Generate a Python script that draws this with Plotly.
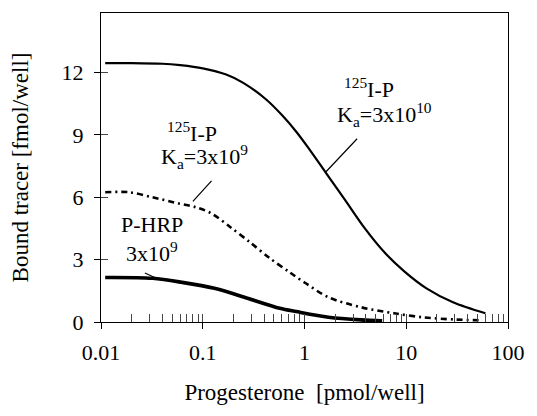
import plotly.graph_objects as go
import math

# Data
x_hi = [0.011, 0.02, 0.04, 0.06, 0.1, 0.17, 0.25, 0.42, 0.6, 0.83, 1.1, 1.61, 2.51, 3.92, 6.1, 9.5, 15.8, 28.8, 60]
y_hi = [12.45, 12.45, 12.42, 12.35, 12.2, 11.9, 11.5, 10.7, 9.95, 9.15, 8.35, 7.2, 5.86, 4.5, 3.35, 2.45, 1.62, 0.95, 0.42]

x_lo = [0.011, 0.019, 0.032, 0.058, 0.084, 0.12, 0.187, 0.29, 0.455, 0.71, 1.0, 1.72, 3.6, 7.6, 15, 30, 55]
y_lo = [6.24, 6.24, 6.0, 5.7, 5.53, 5.24, 4.56, 3.84, 3.07, 2.4, 1.9, 1.19, 0.71, 0.42, 0.22, 0.12, 0.08]

x_hrp = [0.011, 0.032, 0.062, 0.13, 0.275, 0.57, 0.83, 1.72, 3.6, 5.8]
y_hrp = [2.14, 2.1, 1.91, 1.62, 1.14, 0.66, 0.5, 0.23, 0.1, 0.06]

x_major = [0.01, 0.1, 1, 10, 100]
x_major_text = ["0.01", "0.1", "1", "10", "100"]
y_major = [0, 3, 6, 9, 12]
x_minor = [m * d for d in [0.01, 0.1, 1, 10] for m in range(2, 10)]

FONT = "Liberation Serif, Times New Roman, serif"
fig = go.Figure()
fig.add_trace(go.Scatter(x=x_hi, y=y_hi, mode="lines",
                         line=dict(color="black", width=2.2, shape="spline", smoothing=0.9)))
fig.add_trace(go.Scatter(x=x_lo, y=y_lo, mode="lines",
                         line=dict(color="black", width=2.6, dash="6px,4px,2px,4px", shape="spline", smoothing=0.9)))
fig.add_trace(go.Scatter(x=x_hrp, y=y_hrp, mode="lines",
                         line=dict(color="black", width=3.6, shape="spline", smoothing=0.9)))
# invisible helper trace to materialise overlay axes
fig.add_trace(go.Scatter(x=[x_hi[0]], y=[y_hi[0]], xaxis="x2", yaxis="y2",
                         mode="markers", marker=dict(opacity=0), hoverinfo="skip"))

axis_common = dict(showgrid=False, zeroline=False, color="black",
                   tickfont=dict(family=FONT, size=22, color="black"))
fig.update_layout(
    width=537, height=416,
    margin=dict(l=101, r=21, t=13, b=94),
    paper_bgcolor="white", plot_bgcolor="white",
    showlegend=False,
    xaxis=dict(type="log", range=[-2, 2], tickvals=x_major, ticktext=x_major_text,
               ticks="outside", ticklen=6, tickwidth=1.3, showline=True, mirror=True,
               linecolor="black", linewidth=1.4, ticklabelstandoff=4,
               title=dict(text="Progesterone  [pmol/well]", font=dict(family=FONT, size=23, color="black"),
                          standoff=20),
               **axis_common),
    xaxis2=dict(type="log", range=[-2, 2], overlaying="x", anchor="y", side="bottom",
                tickvals=x_major + x_minor, ticks="inside", ticklen=8, tickwidth=1.2,
                showticklabels=False, showgrid=False, zeroline=False, showline=False),
    yaxis=dict(range=[0, 14.86], tickvals=y_major, ticks="outside", ticklen=6, tickwidth=1.3,
               showline=True, mirror=True, linecolor="black", linewidth=1.4, ticklabelstandoff=6,
               title=dict(text="Bound tracer [fmol/well]", font=dict(family=FONT, size=23, color="black"),
                          standoff=26),
               **axis_common),
    yaxis2=dict(range=[0, 14.86], overlaying="y", anchor="x", side="left",
                tickvals=y_major, ticks="inside", ticklen=7, tickwidth=1.3,
                showticklabels=False, showgrid=False, zeroline=False, showline=False),
)

tf = dict(family=FONT, size=22, color="black")
texts = [
    ("<sup>125</sup>I-P", 0.658, 0.757),
    ("K<sub>a</sub>=3x10<sup>10</sup>", 0.696, 0.670),
    ("<sup>125</sup>I-P", 0.224, 0.615),
    ("K<sub>a</sub>=3x10<sup>9</sup>", 0.255, 0.534),
    ("P-HRP", 0.125, 0.314),
    ("3x10<sup>9</sup>", 0.125, 0.226),
]
for t, px, py in texts:
    fig.add_annotation(text=t, xref="paper", yref="paper", x=px, y=py,
                       xanchor="center", yanchor="middle", showarrow=False, font=tf)

# pointer lines (curve point, pixel offset to the other end)
pointers = [(1.61, 7.2, 33, -35), (0.08, 5.8, 20, -22), (0.035, 2.1, -13, -6)]
for px, py, ax, ay in pointers:
    fig.add_annotation(text="", x=math.log10(px), y=py, xref="x", yref="y",
                       ax=ax, ay=ay, showarrow=True, arrowhead=0, arrowwidth=1.2,
                       arrowcolor="black", standoff=0, startstandoff=0)

fig.write_html("out.html")
